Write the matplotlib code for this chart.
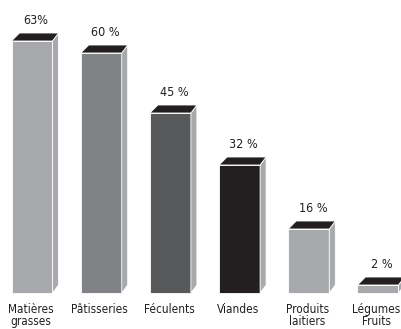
import matplotlib
matplotlib.use("Agg")
import matplotlib.pyplot as plt
from matplotlib.patches import Polygon

categories = ["Matières\ngrasses", "Pâtisseries", "Féculents", "Viandes", "Produits\nlaitiers", "Légumes\nFruits"]
values = [63, 60, 45, 32, 16, 2]
value_labels = ["63%", "60 %", "45 %", "32 %", "16 %", "2 %"]
front_colors = ["#a7a9ac", "#808285", "#58595b", "#231f20", "#a7a9ac", "#a7a9ac"]
side_color = "#a7a9ac"
top_color = "#231f20"

W, H = 402, 329
fig = plt.figure(figsize=(W / 100, H / 100), dpi=100)
ax = fig.add_axes([0, 0, 1, 1])
ax.set_axis_off()

px_x = 69.2      # pixels per category
px_y = 4.0       # pixels per percent
x0 = 32.0        # pixel center of first bar
base = 36.0      # pixels from bottom
ax.set_xlim(-x0 / px_x, (W - x0) / px_x)
ax.set_ylim(-base / px_y, (H - base) / px_y)

bw = 41 / px_x
dxl = 8 / px_x
dxr = 6 / px_x
dy = 8 / px_y

xs = list(range(len(values)))
ax.bar(xs, values, width=bw, color=front_colors, edgecolor="white", linewidth=0.6, zorder=2)
for x, v in zip(xs, values):
    l, r = x - bw / 2, x + bw / 2
    side = Polygon([(r, 0), (r + dxr, dy), (r + dxr, v + dy), (r, v)], closed=True,
                   facecolor=side_color, edgecolor="white", linewidth=0.6, zorder=3)
    top = Polygon([(l, v), (r, v), (r + dxr, v + dy), (l + dxl, v + dy)], closed=True,
                  facecolor=top_color, edgecolor="white", linewidth=0.6, zorder=4)
    ax.add_patch(side)
    ax.add_patch(top)

for x, v, lab in zip(xs, values, value_labels):
    ax.annotate(lab, (x, v), xytext=(3, 14.5), textcoords="offset points",
                ha="center", va="center", fontsize=9, color="#231f20",
                family="DejaVu Sans", fontstretch="condensed")

for x, c in zip(xs, categories):
    ax.annotate(c, (x, 0), xytext=(-1, -7.5), textcoords="offset points",
                ha="center", va="top", fontsize=8.5, color="#231f20",
                family="DejaVu Sans", fontstretch="condensed", linespacing=0.85)

fig.savefig("out.png", dpi=100)
